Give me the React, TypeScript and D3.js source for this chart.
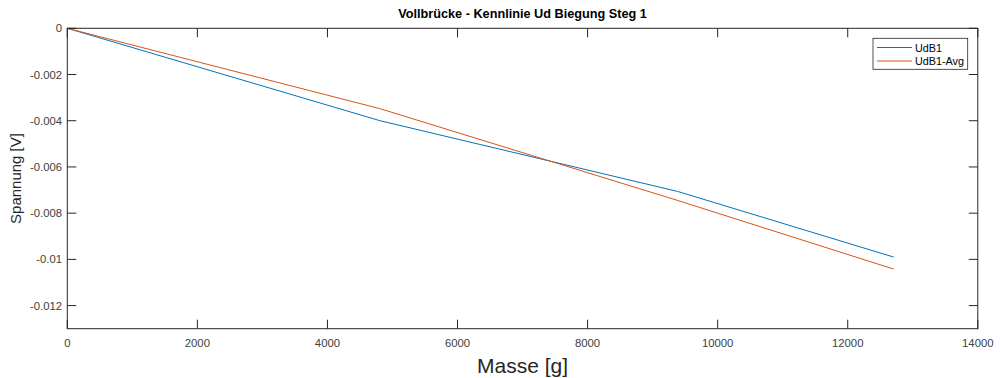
import React from "react";
import * as d3 from "d3";

const massBlue = [0, 4810, 9385, 12707];
const udB1 = [0, -0.004, -0.00706, -0.0099];
const massAvg = [0, 4810, 9385, 12707];
const udB1Avg = [0, -0.00348, -0.00745, -0.01042];
const xTicks = [0, 2000, 4000, 6000, 8000, 10000, 12000, 14000];
const yTicks = [0, -0.002, -0.004, -0.006, -0.008, -0.01, -0.012];
const seriesNames = ["UdB1", "UdB1-Avg"];
const colors = ["#0072BD", "#D95319"];

const W = 1000, H = 378;
const L = 67.3, R = 977.8, T = 28.3, B = 328.7;
const axisColor = "#262626";
const font = "Helvetica, Arial, 'Liberation Sans', sans-serif";

export default function App() {
  const x = d3.scaleLinear().domain([0, 14000]).range([L, R]);
  const y = d3.scaleLinear().domain([-0.013, 0]).range([B, T]);
  const line = d3.line<[number, number]>().x(d => x(d[0])).y(d => y(d[1]));
  const blue = line(massBlue.map((m, i) => [m, udB1[i]] as [number, number]))!;
  const orange = line(massAvg.map((m, i) => [m, udB1Avg[i]] as [number, number]))!;
  const tl = 9;
  const fmtY = (v: number) => (v === 0 ? "0" : String(+v.toFixed(3)));
  return (
    <svg width={W} height={H} style={{ position: "absolute", left: 0, top: 0, fontFamily: font }}>
      <rect x={0} y={0} width={W} height={H} fill="#fff" />
      <text x={(L + R) / 2} y={18} textAnchor="middle" fontWeight="bold" fontSize={12.7} fill="#000">
        Vollbrücke - Kennlinie Ud Biegung Steg 1
      </text>
      <path d={blue} fill="none" stroke={colors[0]} strokeWidth={1} />
      <path d={orange} fill="none" stroke={colors[1]} strokeWidth={1} />
      <rect x={L} y={T} width={R - L} height={B - T} fill="none" stroke={axisColor} strokeWidth={1} />
      {xTicks.map(t => (
        <g key={"x" + t}>
          <line x1={x(t)} x2={x(t)} y1={B} y2={B - tl} stroke={axisColor} />
          <line x1={x(t)} x2={x(t)} y1={T} y2={T + tl} stroke={axisColor} />
          <text x={x(t)} y={347} textAnchor="middle" fontSize={11.3} fill="#404040">{t}</text>
        </g>
      ))}
      {yTicks.map(t => (
        <g key={"y" + t}>
          <line x1={L} x2={L + tl} y1={y(t)} y2={y(t)} stroke={axisColor} />
          <line x1={R} x2={R - tl} y1={y(t)} y2={y(t)} stroke={axisColor} />
          <text x={62} y={y(t) + 4} textAnchor="end" fontSize={11.3} fill="#404040">{fmtY(t)}</text>
        </g>
      ))}
      <text x={(L + R) / 2} y={373} textAnchor="middle" fontSize={21} fill={axisColor}>Masse [g]</text>
      <text transform={`translate(21,${(T + B) / 2}) rotate(-90)`} textAnchor="middle" fontSize={15} fill={axisColor}>
        Spannung [V]
      </text>
      <g>
        <rect x={873} y={38.3} width={94.7} height={31} fill="#fff" stroke={axisColor} strokeWidth={0.8} />
        {seriesNames.map((n, i) => (
          <g key={n}>
            <line x1={877} x2={912} y1={47.5 + i * 13.5} y2={47.5 + i * 13.5} stroke={colors[i]} />
            <text x={915} y={51.5 + i * 13.5} fontSize={10.8} fill="#000">{n}</text>
          </g>
        ))}
      </g>
    </svg>
  );
}
